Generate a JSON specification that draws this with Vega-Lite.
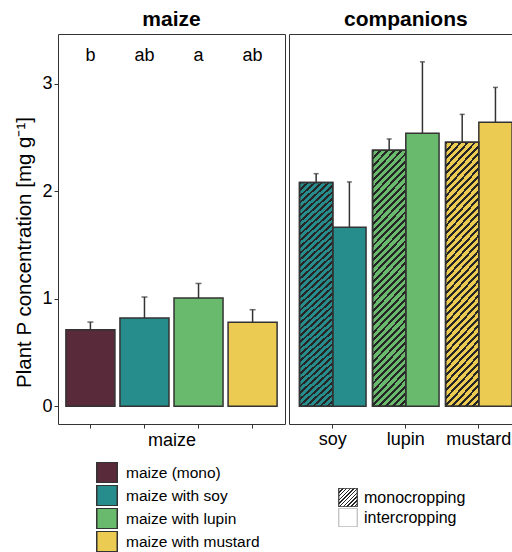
{
 "$schema": "https://vega.github.io/schema/vega-lite/v6.json",
 "padding": {"left": 14, "top": 8, "right": 0, "bottom": 0},
 "datasets": {
  "maize": [
   {"treatment": "maize (mono)", "group": "maize (mono)", "mean": 0.713, "upper": 0.784, "letter": "b"},
   {"treatment": "maize with soy", "group": "maize with soy", "mean": 0.821, "upper": 1.017, "letter": "ab"},
   {"treatment": "maize with lupin", "group": "maize with lupin", "mean": 1.007, "upper": 1.143, "letter": "a"},
   {"treatment": "maize with mustard", "group": "maize with mustard", "mean": 0.781, "upper": 0.899, "letter": "ab"}
  ],
  "comp": [
   {"companion": "soy", "cropping": "monocropping", "group": "maize with soy", "mean": 2.082, "upper": 2.165},
   {"companion": "soy", "cropping": "intercropping", "group": "maize with soy", "mean": 1.667, "upper": 2.088},
   {"companion": "lupin", "cropping": "monocropping", "group": "maize with lupin", "mean": 2.383, "upper": 2.488},
   {"companion": "lupin", "cropping": "intercropping", "group": "maize with lupin", "mean": 2.541, "upper": 3.206},
   {"companion": "mustard", "cropping": "monocropping", "group": "maize with mustard", "mean": 2.457, "upper": 2.717},
   {"companion": "mustard", "cropping": "intercropping", "group": "maize with mustard", "mean": 2.643, "upper": 2.968}
  ]
 },
 "spacing": 2,
 "hconcat": [
  {
   "width": 227,
   "height": 390,
   "title": {"text": "maize"},
   "data": {"name": "maize"},
   "encoding": {
    "x": {"field": "treatment", "type": "nominal", "sort": ["maize (mono)", "maize with soy", "maize with lupin", "maize with mustard"],
          "scale": {"paddingInner": 0.093, "paddingOuter": 0.146},
          "axis": {"labels": false, "title": "maize", "titlePadding": 3, "titleFontSize": 18, "titleFontWeight": "normal", "titleColor": "#000"}}
   },
   "layer": [
    {
     "mark": {"type": "bar", "stroke": "#333", "strokeWidth": 1.5, "opacity": 1},
     "encoding": {
      "y": {"field": "mean", "type": "quantitative", "scale": {"domain": [-0.165, 3.465], "nice": false, "zero": false},
            "axis": {"values": [0, 1, 2, 3], "format": "d", "title": "Plant P concentration [mg g⁻¹]", "titleFontSize": 20.5, "titleFontWeight": "normal", "titleColor": "#000", "titlePadding": 7, "titleY": 218, "labelPadding": 2}},
      "y2": {"datum": 0},
      "color": {"field": "group", "type": "nominal",
                "scale": {"domain": ["maize (mono)", "maize with soy", "maize with lupin", "maize with mustard"], "range": ["#582A3A", "#278C8C", "#6ABA6E", "#EBCB52"]},
                "legend": {"title": null, "orient": "none", "legendX": 38, "legendY": 428, "symbolType": "square", "symbolSize": 420, "symbolStrokeColor": "#333", "symbolStrokeWidth": 1.5, "symbolOpacity": 1, "labelFontSize": 15.5, "labelOffset": 8, "labelColor": "#000", "clipHeight": 21, "rowPadding": 2, "padding": 0}}
     }
    },
    {
     "mark": {"type": "rule", "color": "#333", "strokeWidth": 1.5},
     "encoding": {"y": {"field": "mean", "type": "quantitative"}, "y2": {"field": "upper"}}
    },
    {
     "mark": {"type": "tick", "color": "#333", "thickness": 1.5, "size": 6, "orient": "horizontal"},
     "encoding": {"y": {"field": "upper", "type": "quantitative"}}
    },
    {
     "mark": {"type": "text", "fontSize": 18, "baseline": "alphabetic", "color": "#000"},
     "encoding": {"y": {"datum": 3.215}, "text": {"field": "letter"}}
    }
   ]
  },
  {
   "width": 233.6,
   "height": 390,
   "title": {"text": "companions"},
   "data": {"name": "comp"},
   "encoding": {
    "x": {"field": "companion", "type": "nominal", "sort": ["soy", "lupin", "mustard"],
          "scale": {"paddingInner": 0.089, "paddingOuter": 0.144},
          "axis": {"title": null, "labelAngle": 0}},
    "xOffset": {"field": "cropping", "type": "nominal", "sort": ["monocropping", "intercropping"], "scale": {"paddingInner": 0, "paddingOuter": 0}}
   },
   "layer": [
    {
     "mark": {"type": "bar", "stroke": "#333", "strokeWidth": 1.5, "opacity": 1},
     "encoding": {
      "y": {"field": "mean", "type": "quantitative", "scale": {"domain": [-0.165, 3.465], "nice": false, "zero": false}, "axis": null},
      "y2": {"datum": 0},
      "color": {"field": "group", "type": "nominal",
                "legend": {"title": null, "orient": "none", "legendX": 38, "legendY": 428, "symbolType": "square", "symbolSize": 420, "symbolStrokeColor": "#333", "symbolStrokeWidth": 1.5, "symbolOpacity": 1, "labelFontSize": 15.5, "labelOffset": 8, "labelColor": "#000", "clipHeight": 21, "rowPadding": 2, "padding": 0}},
      "strokeDash": {"field": "cropping", "type": "nominal",
                     "scale": {"domain": ["monocropping", "intercropping"], "range": [[1, 0], [1, 0]]},
                     "legend": {"title": null, "orient": "none", "legendX": 280, "legendY": 454, "symbolType": "square", "symbolSize": 342, "labelFontSize": 16, "labelOffset": 6, "labelColor": "#000", "clipHeight": 19, "rowPadding": 1, "padding": 0, "symbolStrokeWidth": 1.2, "symbolOpacity": 1,
                       "symbolFillColor": [{"test": "datum.value === 'monocropping'", "value": {"gradient": "linear", "x1": 0, "y1": 0, "x2": 1, "y2": 1, "stops": [
                           {"offset": 0, "color": "#262626"}, {"offset": 0.04, "color": "#262626"}, {"offset": 0.04, "color": "rgba(38,38,38,0)"}, {"offset": 0.1, "color": "rgba(38,38,38,0)"},
                           {"offset": 0.1, "color": "#262626"}, {"offset": 0.14, "color": "#262626"}, {"offset": 0.14, "color": "rgba(38,38,38,0)"}, {"offset": 0.2, "color": "rgba(38,38,38,0)"},
                           {"offset": 0.2, "color": "#262626"}, {"offset": 0.24, "color": "#262626"}, {"offset": 0.24, "color": "rgba(38,38,38,0)"}, {"offset": 0.3, "color": "rgba(38,38,38,0)"},
                           {"offset": 0.3, "color": "#262626"}, {"offset": 0.34, "color": "#262626"}, {"offset": 0.34, "color": "rgba(38,38,38,0)"}, {"offset": 0.4, "color": "rgba(38,38,38,0)"},
                           {"offset": 0.4, "color": "#262626"}, {"offset": 0.44, "color": "#262626"}, {"offset": 0.44, "color": "rgba(38,38,38,0)"}, {"offset": 0.5, "color": "rgba(38,38,38,0)"},
                           {"offset": 0.5, "color": "#262626"}, {"offset": 0.54, "color": "#262626"}, {"offset": 0.54, "color": "rgba(38,38,38,0)"}, {"offset": 0.6, "color": "rgba(38,38,38,0)"},
                           {"offset": 0.6, "color": "#262626"}, {"offset": 0.64, "color": "#262626"}, {"offset": 0.64, "color": "rgba(38,38,38,0)"}, {"offset": 0.7, "color": "rgba(38,38,38,0)"},
                           {"offset": 0.7, "color": "#262626"}, {"offset": 0.74, "color": "#262626"}, {"offset": 0.74, "color": "rgba(38,38,38,0)"}, {"offset": 0.8, "color": "rgba(38,38,38,0)"},
                           {"offset": 0.8, "color": "#262626"}, {"offset": 0.84, "color": "#262626"}, {"offset": 0.84, "color": "rgba(38,38,38,0)"}, {"offset": 0.9, "color": "rgba(38,38,38,0)"},
                           {"offset": 0.9, "color": "#262626"}, {"offset": 0.94, "color": "#262626"}, {"offset": 0.94, "color": "rgba(38,38,38,0)"}, {"offset": 1, "color": "rgba(38,38,38,0)"}
                         ]}}, {"value": "white"}],
                       "symbolStrokeColor": [{"test": "datum.value === 'monocropping'", "value": "#333333"}, {"value": "#bbbbbb"}]}}
     }
    },
    {
     "transform": [{"filter": "datum.cropping === 'monocropping'"}],
     "mark": {"type": "bar", "stroke": "#333", "strokeWidth": 1.5, "opacity": 1,
              "fill": {"gradient": "linear", "x1": 0, "y1": 0, "x2": 0.1497, "y2": 1.114, "stops": [
               {"offset": 0, "color": "#262626"}, {"offset": 0.01, "color": "#262626"}, {"offset": 0.01, "color": "rgba(38,38,38,0)"}, {"offset": 0.025, "color": "rgba(38,38,38,0)"},
               {"offset": 0.025, "color": "#262626"}, {"offset": 0.035, "color": "#262626"}, {"offset": 0.035, "color": "rgba(38,38,38,0)"}, {"offset": 0.05, "color": "rgba(38,38,38,0)"},
               {"offset": 0.05, "color": "#262626"}, {"offset": 0.06, "color": "#262626"}, {"offset": 0.06, "color": "rgba(38,38,38,0)"}, {"offset": 0.075, "color": "rgba(38,38,38,0)"},
               {"offset": 0.075, "color": "#262626"}, {"offset": 0.085, "color": "#262626"}, {"offset": 0.085, "color": "rgba(38,38,38,0)"}, {"offset": 0.1, "color": "rgba(38,38,38,0)"},
               {"offset": 0.1, "color": "#262626"}, {"offset": 0.11, "color": "#262626"}, {"offset": 0.11, "color": "rgba(38,38,38,0)"}, {"offset": 0.125, "color": "rgba(38,38,38,0)"},
               {"offset": 0.125, "color": "#262626"}, {"offset": 0.135, "color": "#262626"}, {"offset": 0.135, "color": "rgba(38,38,38,0)"}, {"offset": 0.15, "color": "rgba(38,38,38,0)"},
               {"offset": 0.15, "color": "#262626"}, {"offset": 0.16, "color": "#262626"}, {"offset": 0.16, "color": "rgba(38,38,38,0)"}, {"offset": 0.175, "color": "rgba(38,38,38,0)"},
               {"offset": 0.175, "color": "#262626"}, {"offset": 0.185, "color": "#262626"}, {"offset": 0.185, "color": "rgba(38,38,38,0)"}, {"offset": 0.2, "color": "rgba(38,38,38,0)"},
               {"offset": 0.2, "color": "#262626"}, {"offset": 0.21, "color": "#262626"}, {"offset": 0.21, "color": "rgba(38,38,38,0)"}, {"offset": 0.225, "color": "rgba(38,38,38,0)"},
               {"offset": 0.225, "color": "#262626"}, {"offset": 0.235, "color": "#262626"}, {"offset": 0.235, "color": "rgba(38,38,38,0)"}, {"offset": 0.25, "color": "rgba(38,38,38,0)"},
               {"offset": 0.25, "color": "#262626"}, {"offset": 0.26, "color": "#262626"}, {"offset": 0.26, "color": "rgba(38,38,38,0)"}, {"offset": 0.275, "color": "rgba(38,38,38,0)"},
               {"offset": 0.275, "color": "#262626"}, {"offset": 0.285, "color": "#262626"}, {"offset": 0.285, "color": "rgba(38,38,38,0)"}, {"offset": 0.3, "color": "rgba(38,38,38,0)"},
               {"offset": 0.3, "color": "#262626"}, {"offset": 0.31, "color": "#262626"}, {"offset": 0.31, "color": "rgba(38,38,38,0)"}, {"offset": 0.325, "color": "rgba(38,38,38,0)"},
               {"offset": 0.325, "color": "#262626"}, {"offset": 0.335, "color": "#262626"}, {"offset": 0.335, "color": "rgba(38,38,38,0)"}, {"offset": 0.35, "color": "rgba(38,38,38,0)"},
               {"offset": 0.35, "color": "#262626"}, {"offset": 0.36, "color": "#262626"}, {"offset": 0.36, "color": "rgba(38,38,38,0)"}, {"offset": 0.375, "color": "rgba(38,38,38,0)"},
               {"offset": 0.375, "color": "#262626"}, {"offset": 0.385, "color": "#262626"}, {"offset": 0.385, "color": "rgba(38,38,38,0)"}, {"offset": 0.4, "color": "rgba(38,38,38,0)"},
               {"offset": 0.4, "color": "#262626"}, {"offset": 0.41, "color": "#262626"}, {"offset": 0.41, "color": "rgba(38,38,38,0)"}, {"offset": 0.425, "color": "rgba(38,38,38,0)"},
               {"offset": 0.425, "color": "#262626"}, {"offset": 0.435, "color": "#262626"}, {"offset": 0.435, "color": "rgba(38,38,38,0)"}, {"offset": 0.45, "color": "rgba(38,38,38,0)"},
               {"offset": 0.45, "color": "#262626"}, {"offset": 0.46, "color": "#262626"}, {"offset": 0.46, "color": "rgba(38,38,38,0)"}, {"offset": 0.475, "color": "rgba(38,38,38,0)"},
               {"offset": 0.475, "color": "#262626"}, {"offset": 0.485, "color": "#262626"}, {"offset": 0.485, "color": "rgba(38,38,38,0)"}, {"offset": 0.5, "color": "rgba(38,38,38,0)"},
               {"offset": 0.5, "color": "#262626"}, {"offset": 0.51, "color": "#262626"}, {"offset": 0.51, "color": "rgba(38,38,38,0)"}, {"offset": 0.525, "color": "rgba(38,38,38,0)"},
               {"offset": 0.525, "color": "#262626"}, {"offset": 0.535, "color": "#262626"}, {"offset": 0.535, "color": "rgba(38,38,38,0)"}, {"offset": 0.55, "color": "rgba(38,38,38,0)"},
               {"offset": 0.55, "color": "#262626"}, {"offset": 0.56, "color": "#262626"}, {"offset": 0.56, "color": "rgba(38,38,38,0)"}, {"offset": 0.575, "color": "rgba(38,38,38,0)"},
               {"offset": 0.575, "color": "#262626"}, {"offset": 0.585, "color": "#262626"}, {"offset": 0.585, "color": "rgba(38,38,38,0)"}, {"offset": 0.6, "color": "rgba(38,38,38,0)"},
               {"offset": 0.6, "color": "#262626"}, {"offset": 0.61, "color": "#262626"}, {"offset": 0.61, "color": "rgba(38,38,38,0)"}, {"offset": 0.625, "color": "rgba(38,38,38,0)"},
               {"offset": 0.625, "color": "#262626"}, {"offset": 0.635, "color": "#262626"}, {"offset": 0.635, "color": "rgba(38,38,38,0)"}, {"offset": 0.65, "color": "rgba(38,38,38,0)"},
               {"offset": 0.65, "color": "#262626"}, {"offset": 0.66, "color": "#262626"}, {"offset": 0.66, "color": "rgba(38,38,38,0)"}, {"offset": 0.675, "color": "rgba(38,38,38,0)"},
               {"offset": 0.675, "color": "#262626"}, {"offset": 0.685, "color": "#262626"}, {"offset": 0.685, "color": "rgba(38,38,38,0)"}, {"offset": 0.7, "color": "rgba(38,38,38,0)"},
               {"offset": 0.7, "color": "#262626"}, {"offset": 0.71, "color": "#262626"}, {"offset": 0.71, "color": "rgba(38,38,38,0)"}, {"offset": 0.725, "color": "rgba(38,38,38,0)"},
               {"offset": 0.725, "color": "#262626"}, {"offset": 0.735, "color": "#262626"}, {"offset": 0.735, "color": "rgba(38,38,38,0)"}, {"offset": 0.75, "color": "rgba(38,38,38,0)"},
               {"offset": 0.75, "color": "#262626"}, {"offset": 0.76, "color": "#262626"}, {"offset": 0.76, "color": "rgba(38,38,38,0)"}, {"offset": 0.775, "color": "rgba(38,38,38,0)"},
               {"offset": 0.775, "color": "#262626"}, {"offset": 0.785, "color": "#262626"}, {"offset": 0.785, "color": "rgba(38,38,38,0)"}, {"offset": 0.8, "color": "rgba(38,38,38,0)"},
               {"offset": 0.8, "color": "#262626"}, {"offset": 0.81, "color": "#262626"}, {"offset": 0.81, "color": "rgba(38,38,38,0)"}, {"offset": 0.825, "color": "rgba(38,38,38,0)"},
               {"offset": 0.825, "color": "#262626"}, {"offset": 0.835, "color": "#262626"}, {"offset": 0.835, "color": "rgba(38,38,38,0)"}, {"offset": 0.85, "color": "rgba(38,38,38,0)"},
               {"offset": 0.85, "color": "#262626"}, {"offset": 0.86, "color": "#262626"}, {"offset": 0.86, "color": "rgba(38,38,38,0)"}, {"offset": 0.875, "color": "rgba(38,38,38,0)"},
               {"offset": 0.875, "color": "#262626"}, {"offset": 0.885, "color": "#262626"}, {"offset": 0.885, "color": "rgba(38,38,38,0)"}, {"offset": 0.9, "color": "rgba(38,38,38,0)"},
               {"offset": 0.9, "color": "#262626"}, {"offset": 0.91, "color": "#262626"}, {"offset": 0.91, "color": "rgba(38,38,38,0)"}, {"offset": 0.925, "color": "rgba(38,38,38,0)"},
               {"offset": 0.925, "color": "#262626"}, {"offset": 0.935, "color": "#262626"}, {"offset": 0.935, "color": "rgba(38,38,38,0)"}, {"offset": 0.95, "color": "rgba(38,38,38,0)"},
               {"offset": 0.95, "color": "#262626"}, {"offset": 0.96, "color": "#262626"}, {"offset": 0.96, "color": "rgba(38,38,38,0)"}, {"offset": 0.975, "color": "rgba(38,38,38,0)"},
               {"offset": 0.975, "color": "#262626"}, {"offset": 0.985, "color": "#262626"}, {"offset": 0.985, "color": "rgba(38,38,38,0)"}, {"offset": 1, "color": "rgba(38,38,38,0)"}
              ]}},
     "encoding": {"y": {"field": "mean", "type": "quantitative"}, "y2": {"datum": 0}}
    },
    {
     "mark": {"type": "rule", "color": "#333", "strokeWidth": 1.5},
     "encoding": {"y": {"field": "mean", "type": "quantitative"}, "y2": {"field": "upper"}}
    },
    {
     "mark": {"type": "tick", "color": "#333", "thickness": 1.5, "size": 5, "orient": "horizontal"},
     "encoding": {"y": {"field": "upper", "type": "quantitative"}}
    }
   ]
  }
 ],
 "config": {
  "font": "Liberation Sans",
  "view": {"stroke": "#333", "strokeWidth": 1},
  "title": {"fontSize": 21, "fontWeight": "bold", "color": "#000", "offset": 4, "anchor": "middle"},
  "axis": {"domain": false, "grid": false, "tickColor": "#333", "tickSize": 4, "tickWidth": 1, "labelFontSize": 18, "labelColor": "#000", "labelPadding": 2},
  "legend": {"labelFont": "Liberation Sans"}
 }
}
